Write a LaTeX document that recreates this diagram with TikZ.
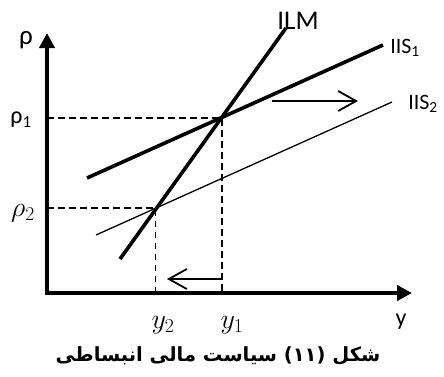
\RequirePackage{fix-cm}
\documentclass[tikz,border=0pt]{standalone}
\usepackage{fontspec}
\setmainfont{Carlito}
\newfontfamily\arabicfont[Script=Arabic]{DejaVu Sans}
\TeXXeTstate=1
\usetikzlibrary{arrows.meta}
\begin{document}
\begin{tikzpicture}[x=1pt,y=-1pt,
  axis/.style={line width=4pt,-{Triangle[length=15pt,width=15pt]}},
  thickcurve/.style={line width=3.6pt},
  thincurve/.style={line width=1.3pt},
  guide/.style={line width=1.7pt,dash pattern=on 6.5pt off 4.5pt},
  shiftarrow/.style={line width=1.8pt,-{Straight Barb[length=18pt,width=20pt,line width=1.8pt]}},
  lab/.style={inner sep=0pt,font=\fontsize{22}{24}\selectfont},
  mlab/.style={inner sep=0pt,font=\fontsize{28}{30}\selectfont}]
\useasboundingbox (0,0) rectangle (444,376);
% points
\coordinate (O) at (47,293);
\coordinate (Ytop) at (47,33);
\coordinate (Ybot) at (47,295);
\coordinate (Xbeg) at (45,293);
\coordinate (Xend) at (412,293);
\coordinate (E1) at (222,118);
\coordinate (E2) at (155.5,208);
\coordinate (R1) at (47,118);
\coordinate (R2) at (47,208);
\coordinate (X1) at (222,293);
\coordinate (X2) at (155.5,293);
\coordinate (LMa) at (120,259);
\coordinate (LMb) at (286,28);
\coordinate (S1a) at (87,178);
\coordinate (S1b) at (383,45);
\coordinate (S2a) at (96,235);
\coordinate (S2b) at (392,102);
\coordinate (Ra) at (272,101);
\coordinate (Rb) at (358,101);
\coordinate (La) at (222,279);
\coordinate (Lb) at (167,279);
% guides
\draw[guide] (R1) -- (E1) -- (X1);
\draw[guide] (R2) -- (E2) -- (X2);
% curves
\draw[thincurve] (S2a) -- (S2b);
\draw[thickcurve] (S1a) -- (S1b);
\draw[thickcurve] (LMa) -- (LMb);
% axes
\draw[axis] (Ybot) -- (Ytop);
\draw[axis] (Xbeg) -- (Xend);
% shift arrows
\draw[shiftarrow] (Ra) -- (Rb);
\draw[shiftarrow] (La) -- (Lb);
% labels
\node[lab,font=\fontsize{27}{28}\selectfont] (rho) at (26,40) {ρ};
\node[lab,font=\fontsize{24}{26}\selectfont] (rho1) at (21,120) {ρ\textsubscript{1}};
\node[mlab] (rho2) at (23,213) {$\rho_2$};
\node[mlab] (y2) at (163,325) {$y_2$};
\node[mlab] (y1) at (232,325) {$y_1$};
\node[lab,font=\fontsize{24}{26}\selectfont] (ylab) at (401,322) {y};
\node[lab,font=\fontsize{27}{29}\selectfont] (ILM) at (298,21) {ILM};
\node[lab] (IIS1) at (405,48) {IIS\textsubscript{1}};
\node[lab] (IIS2) at (423,104) {IIS\textsubscript{2}};
\node[inner sep=0pt] (cap) at (218,356) {\arabicfont\bfseries\fontsize{19.5}{22}\selectfont\beginR شکل (۱۱) سیاست مالی انبساطی\endR};
\end{tikzpicture}
\end{document}
